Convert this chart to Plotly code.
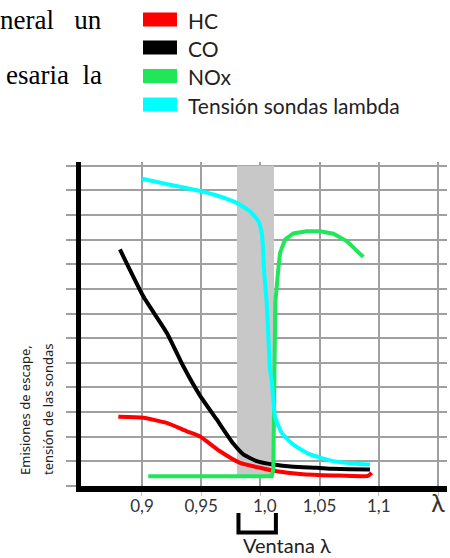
import plotly.graph_objects as go

# ---------------- data ----------------
hc_x = [0.880, 0.9011, 0.9209, 0.9378, 0.9490, 0.9659, 0.9828, 0.9997, 1.0138, 1.0334, 1.0616, 1.0909, 1.0940]
hc_y = [2.81, 2.77, 2.56, 2.22, 2.01, 1.41, 0.94, 0.74, 0.60, 0.49, 0.43, 0.41, 0.53]

co_x = [0.8814, 0.9011, 0.9209, 0.9349, 0.9490, 0.9631, 0.9771, 0.9856, 0.9969, 1.0109, 1.0278, 1.0476, 1.0613, 1.0926]
co_y = [9.60, 7.70, 6.22, 4.86, 3.67, 2.70, 1.72, 1.28, 1.01, 0.87, 0.78, 0.74, 0.70, 0.67]

nox_x = [0.9053, 1.0095, 1.0109, 1.0115, 1.0119, 1.0126, 1.0151, 1.0166, 1.0208, 1.0278, 1.0391, 1.0503, 1.0616, 1.0729, 1.0869]
nox_y = [0.40, 0.40, 0.67, 2.70, 4.73, 7.44, 8.79, 9.46, 10.00, 10.25, 10.34, 10.34, 10.24, 9.94, 9.30]

lam_x = [0.8999, 0.9236, 0.9504, 0.9633, 0.9800, 0.9912, 0.9982, 1.0011, 1.0021, 1.0030, 1.0053, 1.0067,
         1.0081, 1.0095, 1.0109, 1.0123, 1.0180, 1.0278, 1.0419, 1.0616, 1.0785, 1.0926]
lam_y = [12.47, 12.23, 11.96, 11.79, 11.49, 11.15, 10.75, 10.28, 9.75, 8.79, 7.45, 6.08,
         4.73, 4.32, 3.51, 2.83, 2.16, 1.68, 1.28, 1.01, 0.91, 0.87]

series_names = ["HC", "CO", "NOx", "Tensión sondas lambda"]
series_colors = ["#ff0000", "#000000", "#20e65a", "#00ffff"]
series_shapes = ["spline", "spline", "linear", "spline"]

x_tickvals = [0.90, 0.95, 1.00, 1.05, 1.10, 1.15]
x_ticktext = ["0,9", "0,95", "\u00a0\u00a01,0", "1,05", "1,1", "<span style='font-size:25px'>λ</span>"]
y_tickvals = list(range(0, 14))

window_lo, window_hi = 0.9802, 1.0115   # Ventana λ band
bracket_lo, bracket_hi = 0.9815, 1.0131

x_range = [0.8485, 1.1576]
y_range = [0, 13.15]

# ---------------- layout geometry ----------------
W, H = 450, 558
ML, MR, MT, MB = 81, 3, 162, 72
PW, PH = W - ML - MR, H - MT - MB


def px_x(px):
    return (px - ML) / PW


def px_y(py):
    return (H - MB - py) / PH


LEG_FONT = "Lato, 'Noto Sans', sans-serif"

fig = go.Figure()
for xs, ys, name, col, shp in zip([hc_x, co_x, nox_x, lam_x], [hc_y, co_y, nox_y, lam_y],
                                  series_names, series_colors, series_shapes):
    line = dict(color=col, width=4, shape=shp)
    if shp == "spline":
        line["smoothing"] = 0.5
    fig.add_trace(go.Scatter(x=xs, y=ys, mode="lines", name=name, line=line, showlegend=False))

shapes = [
    dict(type="rect", xref="x", yref="y", x0=window_lo, x1=window_hi, y0=0.35, y1=13,
         fillcolor="#c8c8c8", line=dict(width=0), layer="between"),
    dict(type="path", xref="x", yref="paper",
         path=f"M {bracket_lo},{px_y(513)} L {bracket_lo},{px_y(532.5)} L {bracket_hi},{px_y(532.5)} L {bracket_hi},{px_y(513)}",
         line=dict(color="black", width=4)),
]

# legend swatches
leg_rows = [19.5, 47.5, 76, 104.5]
annotations = []
for name, col, cy in zip(series_names, series_colors, leg_rows):
    shapes.append(dict(type="rect", xref="paper", yref="paper",
                       x0=px_x(143), x1=px_x(177), y0=px_y(cy + 7), y1=px_y(cy - 7),
                       fillcolor=col, line=dict(width=0)))
    annotations.append(dict(xref="paper", yref="paper", x=px_x(186), y=px_y(cy + 1),
                            text=name, showarrow=False, xanchor="left", yanchor="middle",
                            font=dict(family=LEG_FONT, size=21, color="#222")))

# clipped body text at top-left
annotations.append(dict(xref="paper", yref="paper", x=px_x(104), y=px_y(20), text="neral&nbsp;&nbsp;&nbsp;un",
                        showarrow=False, xanchor="right", yanchor="middle",
                        font=dict(family="'Liberation Serif', serif", size=27, color="#000")))
annotations.append(dict(xref="paper", yref="paper", x=px_x(104), y=px_y(75), text="esaria&nbsp;&nbsp;la",
                        showarrow=False, xanchor="right", yanchor="middle",
                        font=dict(family="'Liberation Serif', serif", size=27, color="#000")))

# y axis title (two rotated lines)
annotations.append(dict(xref="paper", yref="paper", x=px_x(25), y=px_y(477), text="Emisiones de escape,",
                        showarrow=False, textangle=-90, xanchor="center", yanchor="bottom",
                        font=dict(family="'Noto Sans', sans-serif", size=13, color="#222")))
annotations.append(dict(xref="paper", yref="paper", x=px_x(48), y=px_y(477), text="tensión de las sondas",
                        showarrow=False, textangle=-90, xanchor="center", yanchor="bottom",
                        font=dict(family="'Noto Sans', sans-serif", size=13, color="#222")))

# Ventana λ label
annotations.append(dict(xref="paper", yref="paper", x=px_x(287), y=px_y(545), text="Ventana λ",
                        showarrow=False, xanchor="center", yanchor="middle",
                        font=dict(family=LEG_FONT, size=20, color="#222")))

fig.update_layout(
    width=W, height=H,
    margin=dict(l=ML, r=MR, t=MT, b=MB, pad=0),
    paper_bgcolor="white", plot_bgcolor="white",
    shapes=shapes, annotations=annotations,
    xaxis=dict(range=x_range, tickmode="array", tickvals=x_tickvals, ticktext=x_ticktext,
               showgrid=True, gridcolor="#a0a0a0", gridwidth=2, zeroline=False,
               showline=True, linecolor="black", linewidth=6,
               ticks="outside", ticklen=4, tickcolor="#c0c0c0", tickwidth=1,
               ticklabelstandoff=-4,
               tickfont=dict(family=LEG_FONT, size=17, color="#333"), fixedrange=True),
    yaxis=dict(range=y_range, tickmode="array", tickvals=y_tickvals, showticklabels=False,
               showgrid=True, gridcolor="#a0a0a0", gridwidth=2, zeroline=False,
               showline=True, linecolor="black", linewidth=5,
               ticks="outside", ticklen=10, tickcolor="#a0a0a0", tickwidth=1.5, fixedrange=True),
    showlegend=False,
)

fig.write_html("out.html", config={"displayModeBar": False},
               post_script="document.body.style.margin='0';document.body.style.overflow='hidden';")
